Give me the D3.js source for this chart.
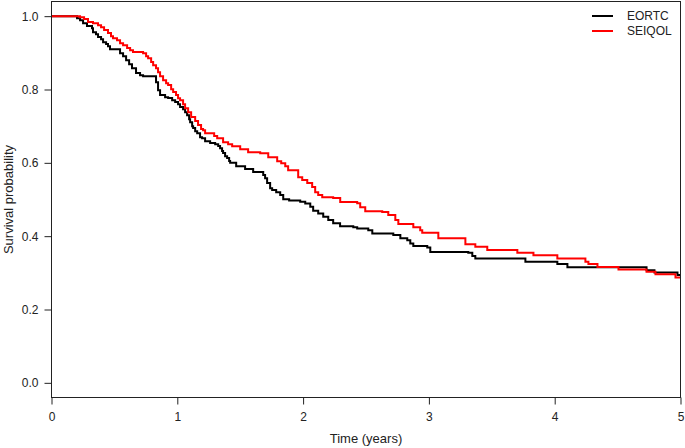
<!DOCTYPE html>
<html>
<head>
<meta charset="utf-8">
<script src="https://cdn.jsdelivr.net/npm/d3@7"></script>
<style>
  html, body { margin: 0; padding: 0; background: #fff; }
  svg { display: block; font-family: "Liberation Sans", Arial, sans-serif; }
</style>
</head>
<body>
<div id="chart"></div>
<script>
// ---------- data ----------
const seriesNames = ["EORTC", "SEIQOL"];
const seriesColors = ["#000000", "#ff0000"];

const eortcTime = [0, 0.203, 0.227, 0.251, 0.282, 0.322, 0.330, 0.354, 0.370, 0.394, 0.410, 0.434, 0.449, 0.465,
  0.545, 0.569, 0.593, 0.617, 0.640, 0.672, 0.704, 0.728, 0.831, 0.847, 0.863, 0.903, 0.927, 0.959, 0.983,
  1.006, 1.022, 1.046, 1.062, 1.078, 1.094, 1.102, 1.118, 1.126, 1.142, 1.158, 1.181, 1.197, 1.221, 1.261,
  1.301, 1.325, 1.340, 1.356, 1.364, 1.380, 1.396, 1.412, 1.420, 1.468, 1.539, 1.603, 1.683, 1.698, 1.714,
  1.738, 1.754, 1.786, 1.818, 1.842, 1.889, 1.977, 2.017, 2.057, 2.080, 2.120, 2.160, 2.200, 2.239, 2.294,
  2.399, 2.430, 2.518, 2.550, 2.717, 2.773, 2.828, 2.852, 2.876, 2.987, 3.011, 3.313, 3.345, 3.369, 3.767,
  4.021, 4.101, 4.730, 4.793, 4.976, 5.0];
const eortcSurv = [1.0, 0.994, 0.989, 0.981, 0.973, 0.967, 0.956, 0.951, 0.943, 0.937, 0.929, 0.924, 0.918, 0.910,
  0.899, 0.891, 0.880, 0.869, 0.858, 0.845, 0.839, 0.836, 0.820, 0.798, 0.785, 0.779, 0.777, 0.771, 0.766,
  0.760, 0.752, 0.746, 0.738, 0.730, 0.719, 0.711, 0.700, 0.695, 0.686, 0.681, 0.670, 0.667, 0.659, 0.654,
  0.651, 0.646, 0.640, 0.632, 0.627, 0.618, 0.613, 0.605, 0.600, 0.591, 0.583, 0.575, 0.567, 0.558, 0.545,
  0.531, 0.526, 0.520, 0.512, 0.501, 0.497, 0.494, 0.489, 0.480, 0.469, 0.462, 0.453, 0.444, 0.435, 0.427,
  0.424, 0.421, 0.416, 0.407, 0.403, 0.394, 0.389, 0.380, 0.373, 0.369, 0.357, 0.355, 0.346, 0.339, 0.330,
  0.324, 0.315, 0.307, 0.301, 0.294, 0.294];

const seiqolTime = [0, 0.227, 0.259, 0.290, 0.330, 0.370, 0.394, 0.418, 0.449, 0.473, 0.489, 0.521, 0.545, 0.569,
  0.601, 0.625, 0.648, 0.728, 0.752, 0.768, 0.792, 0.808, 0.831, 0.847, 0.863, 0.887, 0.911, 0.927, 0.951,
  0.967, 0.990, 1.006, 1.022, 1.046, 1.062, 1.086, 1.110, 1.142, 1.165, 1.189, 1.205, 1.221, 1.293, 1.317,
  1.364, 1.404, 1.436, 1.500, 1.563, 1.659, 1.723, 1.794, 1.826, 1.858, 1.881, 1.961, 1.993, 2.033, 2.072,
  2.096, 2.120, 2.152, 2.239, 2.295, 2.430, 2.454, 2.494, 2.629, 2.677, 2.733, 2.757, 2.876, 2.931, 2.947,
  3.075, 3.290, 3.369, 3.464, 3.703, 3.831, 4.021, 4.244, 4.268, 4.340, 4.507, 4.730, 4.801, 4.960, 5.0];
const seiqolSurv = [1.0, 0.997, 0.992, 0.984, 0.981, 0.975, 0.970, 0.962, 0.954, 0.945, 0.940, 0.934, 0.926, 0.921,
  0.913, 0.907, 0.902, 0.899, 0.891, 0.885, 0.875, 0.866, 0.858, 0.847, 0.836, 0.825, 0.817, 0.812, 0.801,
  0.793, 0.785, 0.776, 0.771, 0.760, 0.749, 0.738, 0.725, 0.714, 0.703, 0.692, 0.689, 0.681, 0.673, 0.667,
  0.656, 0.651, 0.645, 0.637, 0.629, 0.626, 0.615, 0.604, 0.599, 0.591, 0.580, 0.561, 0.553, 0.545, 0.534,
  0.520, 0.512, 0.506, 0.504, 0.493, 0.490, 0.479, 0.468, 0.466, 0.458, 0.444, 0.433, 0.424, 0.416, 0.409,
  0.394, 0.378, 0.371, 0.362, 0.355, 0.348, 0.339, 0.330, 0.324, 0.316, 0.309, 0.303, 0.296, 0.287, 0.287];

const xTicks = [0, 1, 2, 3, 4, 5];
const yTicks = [0.0, 0.2, 0.4, 0.6, 0.8, 1.0];
const xTitle = "Time (years)";
const yTitle = "Survival probability";

// ---------- helpers ----------
function zip(ts, ss) { return ts.map((t, i) => ({ t: t, s: ss[i] })); }

// ---------- draw ----------
const W = 685, H = 448;
const box = { left: 51.5, right: 680.5, top: 1.5, bottom: 397.5 };

const svg = d3.select("#chart").append("svg").attr("width", W).attr("height", H);

const x = d3.scaleLinear().domain([0, 5]).range([box.left, box.right]);
// R-style 4% padding on y
const y = d3.scaleLinear().domain([-0.04, 1.04]).range([box.bottom, box.top]);

// curves
const series = [zip(eortcTime, eortcSurv), zip(seiqolTime, seiqolSurv)];
const line = d3.line().x(d => x(d.t)).y(d => y(d.s)).curve(d3.curveStepAfter);

const plot = svg.append("g");
series.forEach((pts, i) => {
  plot.append("path")
    .attr("d", line(pts))
    .attr("fill", "none")
    .attr("stroke", seriesColors[i])
    .attr("stroke-width", 2);
});

// box
svg.append("rect")
  .attr("x", box.left).attr("y", box.top)
  .attr("width", box.right - box.left).attr("height", box.bottom - box.top)
  .attr("fill", "none").attr("stroke", "#222").attr("stroke-width", 1);

// axes
const xAxis = d3.axisBottom(x).tickValues(xTicks).tickFormat(d3.format("d")).tickSize(7).tickPadding(8);
const yAxis = d3.axisLeft(y).tickValues(yTicks).tickFormat(d3.format(".1f")).tickSize(7).tickPadding(6);

const gx = svg.append("g").attr("transform", `translate(0,${box.bottom})`).call(xAxis);
const gy = svg.append("g").attr("transform", `translate(${box.left},0)`).call(yAxis);
[gx, gy].forEach(g => {
  g.select(".domain").remove();
  g.selectAll("line").attr("stroke", "#222");
  g.selectAll("text").attr("fill", "#222").style("font-size", "12px")
    .style("font-family", "'Liberation Sans', Arial, sans-serif");
});

// axis titles
svg.append("text")
  .attr("x", (box.left + box.right) / 2).attr("y", 443)
  .attr("text-anchor", "middle").attr("fill", "#222")
  .style("font-size", "13px")
  .text(xTitle);

svg.append("text")
  .attr("transform", `translate(13,${(box.top + box.bottom) / 2}) rotate(-90)`)
  .attr("text-anchor", "middle").attr("fill", "#222")
  .style("font-size", "13px")
  .text(yTitle);

// legend
const legend = svg.append("g").attr("transform", "translate(592,16)");
seriesNames.forEach((name, i) => {
  const row = legend.append("g").attr("transform", `translate(0,${i * 15})`);
  row.append("line").attr("x1", 0).attr("x2", 21).attr("y1", 0).attr("y2", 0)
    .attr("stroke", seriesColors[i]).attr("stroke-width", 2);
  row.append("text").attr("x", 35).attr("y", 0).attr("dy", "0.35em")
    .attr("fill", "#222").style("font-size", "12px")
    .text(name);
});
</script>
</body>
</html>
